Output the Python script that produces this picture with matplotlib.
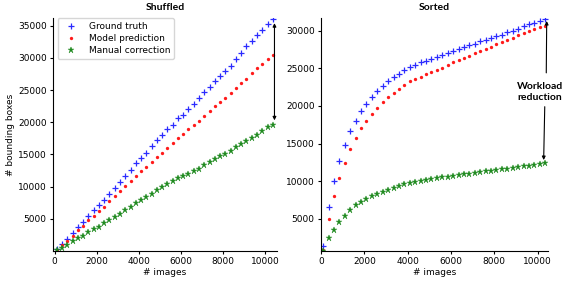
import matplotlib
matplotlib.use("Agg")
import matplotlib.pyplot as plt

# image counts (same for both panels)
n_images = [100, 350, 600, 850, 1100, 1350, 1600, 1850, 2100, 2350, 2600, 2850,
            3100, 3350, 3600, 3850, 4100, 4350, 4600, 4850, 5100, 5350, 5600, 5850,
            6100, 6350, 6600, 6850, 7100, 7350, 7600, 7850, 8100, 8350, 8600, 8850,
            9100, 9350, 9600, 9850, 10100, 10350]

# Shuffled
shuf_gt = [300, 1150, 1900, 2800, 3750, 4500, 5450, 6400, 7150, 8000, 8800, 9800,
           10700, 11700, 12600, 13600, 14500, 15300, 16300, 17200, 18000, 18900, 19600, 20600,
           21200, 22100, 22900, 23700, 24700, 25500, 26400, 27200, 27900, 28800, 29800, 30800,
           31800, 32700, 33600, 34400, 35300, 36000]
shuf_pred = [200, 900, 1600, 2300, 3200, 3900, 4800, 5500, 6200, 6900, 7700, 8500,
             9300, 10100, 10900, 11700, 12400, 13100, 13800, 14600, 15300, 16000, 16800, 17500,
             18200, 18900, 19600, 20200, 21000, 21800, 22500, 23100, 23800, 24500, 25300, 26100,
             26800, 27600, 28400, 29000, 29800, 30500]
shuf_manual = [100, 500, 1000, 1500, 2000, 2400, 2900, 3400, 3800, 4300, 4800, 5300,
               5800, 6300, 6900, 7400, 8000, 8400, 8900, 9400, 9900, 10400, 10800, 11300,
               11600, 12000, 12400, 12800, 13300, 13800, 14300, 14700, 15100, 15600, 16100, 16600,
               17100, 17600, 18100, 18700, 19200, 19600]

# Sorted
sort_gt = [1400, 6500, 10000, 12700, 14800, 16600, 18000, 19300, 20300, 21200, 22000, 22700,
           23300, 23800, 24300, 24800, 25200, 25500, 25800, 26000, 26300, 26500, 26800, 27000,
           27300, 27600, 27800, 28100, 28300, 28600, 28800, 29000, 29300, 29500, 29800, 30000,
           30300, 30600, 30900, 31100, 31300, 31600]
sort_pred = [800, 5000, 8000, 10400, 12400, 14300, 15700, 17000, 18000, 18900, 19700, 20500,
             21200, 21700, 22300, 22800, 23300, 23600, 23900, 24200, 24500, 24800, 25100, 25500,
             25800, 26100, 26400, 26700, 27000, 27300, 27600, 27900, 28200, 28500, 28800, 29100,
             29400, 29700, 30000, 30200, 30500, 30700]
sort_manual = [700, 2400, 3500, 4600, 5400, 6200, 6800, 7200, 7600, 8000, 8300, 8600,
               8850, 9100, 9350, 9550, 9750, 9900, 10000, 10100, 10250, 10350, 10500, 10600,
               10700, 10800, 10900, 11000, 11100, 11200, 11300, 11400, 11450, 11550, 11650, 11750,
               11850, 11950, 12050, 12150, 12250, 12400]

plt.rcParams['font.family'] = ['DejaVu Sans']
plt.rcParams['font.size'] = 6.5

fig = plt.figure(figsize=(5.72, 2.85), dpi=100)
ax1 = fig.add_axes([53/572, 1 - 251/285, 224/572, 233/285])
ax2 = fig.add_axes([321/572, 1 - 251/285, 227/572, 233/285])

for ax, gt, pred, man in [(ax1, shuf_gt, shuf_pred, shuf_manual),
                          (ax2, sort_gt, sort_pred, sort_manual)]:
    ax.plot(n_images, gt, '+', color='#2b2bff', ms=5, mew=0.9, label='Ground truth')
    ax.plot(n_images, pred, 'o', color='#ff1a1a', ms=2.4, mew=0, label='Model prediction')
    ax.plot(n_images, man, '*', color='#1f8a1f', ms=4.5, mew=0.3, label='Manual correction')
    ax.spines['top'].set_visible(False)
    ax.spines['right'].set_visible(False)
    ax.set_xticks([0, 2000, 4000, 6000, 8000, 10000])
    ax.set_xlabel('# images', labelpad=1)
    ax.tick_params(length=2.5, pad=2)

ax1.set_xlim(-80, 10550)
ax1.set_ylim(0, 36200)
ax1.set_yticks([5000, 10000, 15000, 20000, 25000, 30000, 35000])
ax1.set_ylabel('# bounding boxes', labelpad=2)
ax1.set_title('Shuffled', fontsize=7.5, fontweight='bold', family='Lato', pad=6)
ax1.legend(loc='upper left', fontsize=6.5, handletextpad=1.0, borderpad=0.45,
           labelspacing=0.35, bbox_to_anchor=(0.0, 1.02))
ax1.annotate('', xy=(10430, 35400), xytext=(10430, 20300),
             arrowprops=dict(arrowstyle='<|-|>', color='black', lw=0.8,
                             mutation_scale=5, shrinkA=0, shrinkB=0))

ax2.set_xlim(0, 10480)
ax2.set_ylim(700, 31700)
ax2.set_yticks([5000, 10000, 15000, 20000, 25000, 30000])
ax2.set_title('Sorted', fontsize=7.5, fontweight='bold', family='Lato', pad=6)
ax2.text(10100, 21900, 'Workload\nreduction', ha='center', va='center',
         fontsize=7.5, fontweight='bold', family='Lato', linespacing=1.3)
ax2.annotate('', xy=(10420, 31300), xytext=(10400, 24400),
             arrowprops=dict(arrowstyle='-|>', color='black', lw=0.8,
                             mutation_scale=5, shrinkA=0, shrinkB=0))
ax2.annotate('', xy=(10280, 12800), xytext=(10330, 19900),
             arrowprops=dict(arrowstyle='-|>', color='black', lw=0.8,
                             mutation_scale=5, shrinkA=0, shrinkB=0))

fig.savefig('out.png', dpi=100)
